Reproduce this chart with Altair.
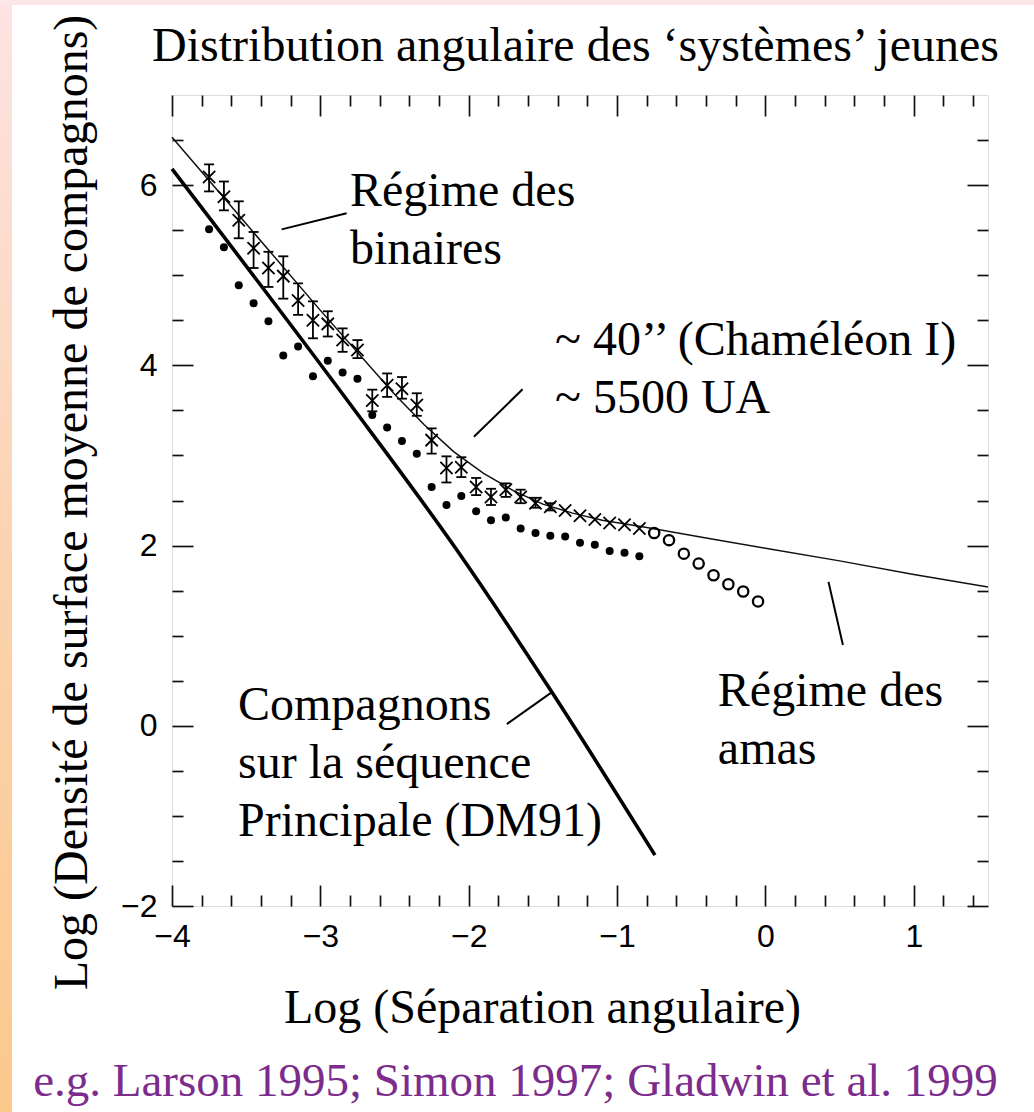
import altair as alt
import pandas as pd

SERIF = "Liberation Serif"
SANS = "Liberation Sans"

# ---- data ----
pt_x = [-3.75, -3.65, -3.55, -3.45, -3.35, -3.25, -3.15, -3.05, -2.95, -2.85,
        -2.75, -2.65, -2.55, -2.45, -2.35, -2.25, -2.15, -2.05, -1.95, -1.85,
        -1.75, -1.65, -1.55, -1.45, -1.35, -1.25, -1.15, -1.05, -0.95, -0.85]

cross_y = [6.09, 5.87, 5.61, 5.30, 5.08, 4.99, 4.72, 4.50, 4.46, 4.28,
           4.17, 3.61, 3.78, 3.74, 3.56, 3.17, 2.86, 2.87, 2.65, 2.54,
           2.62, 2.54, 2.47, 2.43, 2.39, 2.33, 2.29, 2.25, 2.23, 2.19]
err_hi = [6.23, 6.04, 5.82, 5.48, 5.26, 5.21, 4.91, 4.71, 4.60, 4.41,
          4.28, 3.73, 3.91, 3.87, 3.69, 3.30, 2.99, 2.98, 2.75, 2.63,
          2.69, 2.62, 2.53, 2.47]
err_lo = [5.93, 5.72, 5.41, 5.08, 4.87, 4.74, 4.56, 4.30, 4.32, 4.15,
          4.08, 3.49, 3.65, 3.63, 3.44, 3.02, 2.70, 2.76, 2.56, 2.45,
          2.54, 2.47, 2.42, 2.39]

dot_y = [5.51, 5.31, 4.89, 4.69, 4.49, 4.11, 4.21, 3.88, 4.05, 3.92,
         3.85, 3.45, 3.31, 3.16, 3.02, 2.65, 2.45, 2.55, 2.38, 2.28,
         2.31, 2.19, 2.14, 2.11, 2.10, 2.03, 2.01, 1.94, 1.92, 1.88]

circ_x = [-0.75, -0.65, -0.55, -0.45, -0.35, -0.25, -0.15, -0.05]
circ_y = [2.14, 2.06, 1.91, 1.80, 1.67, 1.57, 1.49, 1.38]

fit_x = [-4.0, -3.5, -3.0, -2.5, -2.3, -2.1, -1.9, -1.7, -1.5, -1.3, -1.1,
         -0.8, -0.4, 0.0, 0.5, 1.0, 1.5]
fit_y = [6.53, 5.57, 4.61, 3.68, 3.34, 3.04, 2.80, 2.61, 2.46, 2.36, 2.28,
         2.20, 2.085, 1.97, 1.83, 1.68, 1.54]

dm_x = [-4.0, -2.82, -2.08, -1.44, -0.745]
dm_y = [6.18, 3.615, 1.95, 0.374, -1.435]

# leader lines (data units)
seg_x1 = [-3.261, -1.965, 0.425, -1.743]
seg_y1 = [5.509, 3.208, 1.597, 0.019]
seg_x2 = [-2.823, -1.637, 0.522, -1.439]
seg_y2 = [5.687, 3.734, 0.896, 0.374]

ann_text = ["Régime des\nbinaires",
            "~ 40’’ (Chaméléon I)\n~ 5500 UA",
            "Régime des\namas",
            "Compagnons\nsur la séquence\nPrincipale (DM91)"]
ann_x = [-2.80, -1.419, -0.321, -3.555]
ann_y = [5.768, 4.114, 0.219, 0.063]

x_major = [-4, -3, -2, -1, 0, 1]
x_minor = [-3.8, -3.6, -3.4, -3.2, -2.8, -2.6, -2.4, -2.2, -1.8, -1.6, -1.4,
           -1.2, -0.8, -0.6, -0.4, -0.2, 0.2, 0.4, 0.6, 0.8, 1.2, 1.4]
y_major = [-2, 0, 2, 4, 6]
y_minor = [-1.5, -1, -0.5, 0.5, 1, 1.5, 2.5, 3, 3.5, 4.5, 5, 5.5, 6.5]

TITLE = "Distribution angulaire des ‘systèmes’ jeunes"
XTITLE = "Log (Séparation angulaire)"
YTITLE = "Log (Densité de surface moyenne de compagnons)"
CITE = "e.g. Larson 1995; Simon 1997; Gladwin et al. 1999"

W, H = 816, 811
PAD = {"left": 172, "top": 95, "right": 46, "bottom": 206}

xs = alt.Scale(domain=[-4, 1.5], nice=False, zero=False)
ys = alt.Scale(domain=[-2, 7], nice=False, zero=False)


def tick_axis(values, orient, offset, size, **kw):
    return alt.Axis(values=values, orient=orient, offset=offset, ticks=True,
                    tickSize=size, tickWidth=1.7, tickColor="#111",
                    labels=False, domain=False, grid=False,
                    title=kw.pop("title", None), **kw)


def big_title(text, x, y, color="#000", size=48):
    return dict(title=text, titleFont=SERIF, titleFontSize=size,
                titleFontWeight="normal", titleColor=color, titleX=x,
                titleY=y, titleBaseline="alphabetic", titleAlign="center")


x_lab = alt.Axis(values=x_major, orient="bottom", ticks=False, tickSize=0,
                 domain=False, grid=False, format="d", labelFont=SANS,
                 labelFontSize=32, labelPadding=15, labelColor="#000",
                 labelFlush=False, labelOverlap=False,
                 **big_title(XTITLE, 370, 116))
y_lab = alt.Axis(values=y_major, orient="left", ticks=False, tickSize=0,
                 domain=False, grid=False, format="d", labelFont=SANS,
                 labelFontSize=32, labelPadding=15, labelColor="#000",
                 labelFlush=False, labelOverlap=False,
                 titleAngle=270, **big_title(YTITLE, -86, 407))

# slide border (decoration at the page edge)
edge_df = pd.DataFrame({"k": [0]})
left_edge = alt.Chart(edge_df).mark_rect(
    color=alt.Gradient(gradient="linear", x1=0, x2=0, y1=0, y2=1,
                       stops=[alt.GradientStop(color="#fde3e3", offset=0),
                              alt.GradientStop(color="#fcd3b0", offset=0.5),
                              alt.GradientStop(color="#fbc98c", offset=1)])
).encode(x=alt.value(-PAD["left"]), x2=alt.value(-PAD["left"] + 12),
         y=alt.value(-PAD["top"]), y2=alt.value(H + PAD["bottom"]))
top_edge = alt.Chart(edge_df).mark_rect(color="#fde6e6").encode(
    x=alt.value(-PAD["left"]), x2=alt.value(W + PAD["right"]),
    y=alt.value(-PAD["top"]), y2=alt.value(-PAD["top"] + 5))

fit_df = pd.DataFrame({"x": fit_x, "y": fit_y})
dm_df = pd.DataFrame({"x": dm_x, "y": dm_y})
dot_df = pd.DataFrame({"x": pt_x, "y": dot_y})
cross_df = pd.DataFrame({"x": pt_x, "y": cross_y})
err_df = pd.DataFrame({"x": pt_x[:len(err_hi)], "hi": err_hi, "lo": err_lo})
circ_df = pd.DataFrame({"x": circ_x, "y": circ_y})
seg_df = pd.DataFrame({"x1": seg_x1, "y1": seg_y1, "x2": seg_x2, "y2": seg_y2})
ann_df = pd.DataFrame({"x": ann_x, "y": ann_y, "t": ann_text})

fit = alt.Chart(fit_df).mark_line(color="#111", strokeWidth=1.5).encode(
    x=alt.X("x:Q", scale=xs, axis=x_lab),
    y=alt.Y("y:Q", scale=ys, axis=y_lab))

dm = alt.Chart(dm_df).mark_line(color="#000", strokeWidth=3.6,
                                interpolate="monotone").encode(
    x=alt.X("x:Q", scale=xs, axis=tick_axis(x_major, "top", -H, 21)),
    y=alt.Y("y:Q", scale=ys, axis=tick_axis(y_major, "right", -W, 21)))

dots = alt.Chart(dot_df).mark_circle(color="#000", size=64, opacity=1).encode(
    x=alt.X("x:Q", scale=xs, axis=tick_axis(
        x_minor, "top", -H, 11, **big_title(CITE, 343, 189, "#7b2c8c", 47))),
    y=alt.Y("y:Q", scale=ys, axis=tick_axis(y_minor, "right", -W, 11)))

crosses = alt.Chart(cross_df).mark_point(
    shape="M-1,-1L1,1M-1,1L1,-1", filled=False, stroke="#000",
    strokeWidth=1.8, size=150, opacity=1).encode(
    x=alt.X("x:Q", scale=xs, axis=tick_axis(
        x_major, "bottom", -H, 21, **big_title(TITLE, 403, -35))),
    y=alt.Y("y:Q", scale=ys, axis=tick_axis(y_major, "left", -W, 21)))

circs = alt.Chart(circ_df).mark_point(
    shape="circle", filled=False, stroke="#000", strokeWidth=2.3, size=105,
    opacity=1).encode(
    x=alt.X("x:Q", scale=xs, axis=tick_axis(x_minor, "bottom", -H, 11)),
    y=alt.Y("y:Q", scale=ys, axis=tick_axis(y_minor, "left", -W, 11)))

err_rule = alt.Chart(err_df).mark_rule(color="#000", strokeWidth=1.8).encode(
    x=alt.X("x:Q", scale=xs, axis=None),
    y=alt.Y("lo:Q", scale=ys, axis=None), y2="hi:Q")
cap_hi = alt.Chart(err_df).mark_tick(orient="horizontal", color="#000",
                                     size=10, thickness=1.8, opacity=1).encode(
    x=alt.X("x:Q", scale=xs, axis=None),
    y=alt.Y("hi:Q", scale=ys, axis=None))
cap_lo = alt.Chart(err_df).mark_tick(orient="horizontal", color="#000",
                                     size=10, thickness=1.8, opacity=1).encode(
    x=alt.X("x:Q", scale=xs, axis=None),
    y=alt.Y("lo:Q", scale=ys, axis=None))

segs = alt.Chart(seg_df).mark_rule(color="#000", strokeWidth=2).encode(
    x=alt.X("x1:Q", scale=xs, axis=None), x2="x2:Q",
    y=alt.Y("y1:Q", scale=ys, axis=None), y2="y2:Q")

ann = alt.Chart(ann_df).mark_text(
    align="left", baseline="alphabetic", font=SERIF, fontSize=48,
    lineBreak="\n", lineHeight=58, color="#000").encode(
    x=alt.X("x:Q", scale=xs, axis=None),
    y=alt.Y("y:Q", scale=ys, axis=None), text="t:N")

chart = alt.layer(fit, dm, dots, crosses, circs, err_rule, cap_hi, cap_lo,
                  segs, ann, left_edge, top_edge).resolve_axis(
    x="independent", y="independent").properties(
    width=W, height=H,
    autosize=alt.AutoSizeParams(type="none"),
    padding=PAD,
).configure_view(stroke="#000", strokeWidth=2).configure(background="white")

chart.save("out.html", embed_options={"renderer": "svg", "actions": False})
